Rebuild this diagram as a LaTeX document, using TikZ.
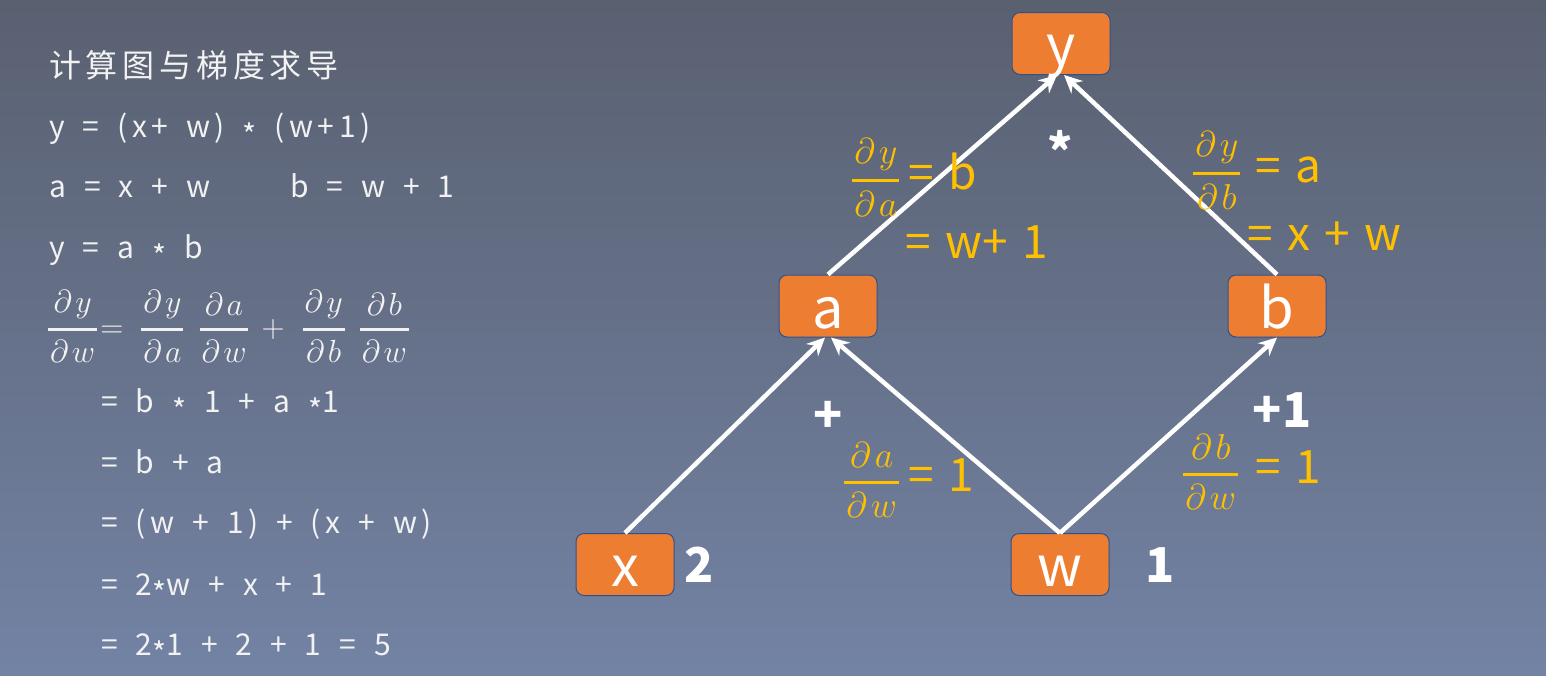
\RequirePackage{fix-cm}
\documentclass[tikz,border=0pt]{standalone}
\usepackage{graphicx}
\usepackage{fontspec}
\usetikzlibrary{arrows.meta}

\newfontfamily\slidefont{Noto Sans CJK SC}[LetterSpace=15, WordSpace=1.6]
\newfontfamily\boxfont{Noto Sans CJK SC}[WordSpace=1.4]

\definecolor{bgtop}{RGB}{89,96,112}
\definecolor{bgbot}{RGB}{115,131,164}
\definecolor{boxfill}{RGB}{237,125,49}
\definecolor{boxline}{RGB}{47,82,143}
\definecolor{gold}{RGB}{255,192,0}
\definecolor{chalk}{RGB}{242,242,242}

\newcommand{\mul}{\raisebox{-0.33em}{*}}
% partial derivative fraction with a thick bar: [size]{num}{den}
\newcommand{\pdfrac}[3][36]{{\fontsize{#1}{#1}\selectfont$\displaystyle{\mkern1mu\partial\mkern2mu #2\mkern1mu \above 3pt \mkern1mu\partial\mkern2mu #3\mkern1mu}$}}

\tikzset{
  valbox/.style={rectangle, draw=boxline, line width=1pt, fill=boxfill, rounded corners=8pt,
                 minimum width=98pt, minimum height=62pt, inner sep=0pt, text=white,
                 text height=44pt, text depth=0pt, font=\boxfont\fontsize{56}{56}\selectfont},
  arrow/.style={->, line width=4.5pt, draw=white, >={Stealth[length=18pt, width=17pt, inset=6pt]}},
  eqtext/.style={anchor=base west, text=chalk, inner sep=0pt, font=\slidefont\fontsize{30}{30}\selectfont},
  grad/.style={anchor=west, text=gold, inner sep=0pt, font=\boxfont\fontsize{46}{46}\selectfont},
  num/.style={text=white, inner sep=0pt, font=\boxfont\bfseries\fontsize{48}{48}\selectfont},
}

\begin{document}
\begin{tikzpicture}[x=1pt, y=-1pt]
  % background
  \shade[top color=bgtop, bottom color=bgbot] (0,0) rectangle (1546,675);
  \useasboundingbox (0,0) rectangle (1546,675);

  % derivation (left)
  \node[eqtext, font=\slidefont\fontsize{32}{32}\selectfont] (title) at (49,77) {计算图与梯度求导};
  \node[eqtext] (yfull) at (49,137) {y = (x+ w) \mul{} (w+1)};
  \node[eqtext] (adef)  at (49,197) {a = x + w};
  \node[eqtext] (bdef)  at (290,197) {b = w + 1};
  \node[eqtext] (yab)   at (49,258) {y = a \mul{} b};
  \node[anchor=base west, text=chalk, inner sep=0pt, font=\fontsize{32}{32}\selectfont] (chain) at (47,337.5)
    {\pdfrac[32]{y}{w}\hspace{2pt}$=$\hspace{17pt}\pdfrac[32]{y}{a}\hspace{14pt}\pdfrac[32]{a}{w}\hspace{12pt}$+$\hspace{17pt}\pdfrac[32]{y}{b}\hspace{13pt}\pdfrac[32]{b}{w}};
  \node[eqtext] (step1) at (101,412) {= b \mul{} 1 + a \mul1};
  \node[eqtext] (step2) at (101,473) {= b + a};
  \node[eqtext] (step3) at (101,533) {= (w + 1) + (x + w)};
  \node[eqtext] (step4) at (101,595) {= 2\mul w + x + 1};
  \node[eqtext] (step5) at (101,655) {= 2\mul1 + 2 + 1 = 5};

  % computational graph
  \node[valbox] (y) at (1061,43.5)  {y};
  \node[valbox] (a) at (828,306)    {a};
  \node[valbox] (b) at (1277,306)   {b};
  \node[valbox] (x) at (625,564.5)  {x};
  \node[valbox] (w) at (1060,564.5) {w};

  \draw[arrow] (x.north) -- ([xshift=-3pt]a.south);
  \draw[arrow] (w.north) -- ([xshift=3pt]a.south);
  \draw[arrow] (w.north) -- (b.south);
  \draw[arrow] (a.north) -- ([xshift=-4pt]y.south);
  \draw[arrow] (b.north) -- ([xshift=3pt]y.south);

  % operators and values
  \node[num] (times) at (1060,150) {*};
  \node[num] (plus)  at (828,417)  {+};
  \node[num] (plus1) at (1282,410) {+1};
  \node[num] (xval)  at (699,565)  {2};
  \node[num] (wval)  at (1160,565) {1};

  % local gradients
  \node[grad] (dyda)  at (851,177)  {\pdfrac{y}{a}\hspace{8pt}= b};
  \node[grad] (dyda2) at (905,242)  {= w+ 1};
  \node[grad] (dydb)  at (1192,170) {\pdfrac{y}{b}\hspace{14pt}= a};
  \node[grad] (dydb2) at (1247,236) {= x + w};
  \node[grad] (dadw)  at (843,480)  {\pdfrac{a}{w}\hspace{8pt}= 1};
  \node[grad] (dbdw)  at (1182,472) {\pdfrac{b}{w}\hspace{16pt}= 1};
\end{tikzpicture}
\end{document}
